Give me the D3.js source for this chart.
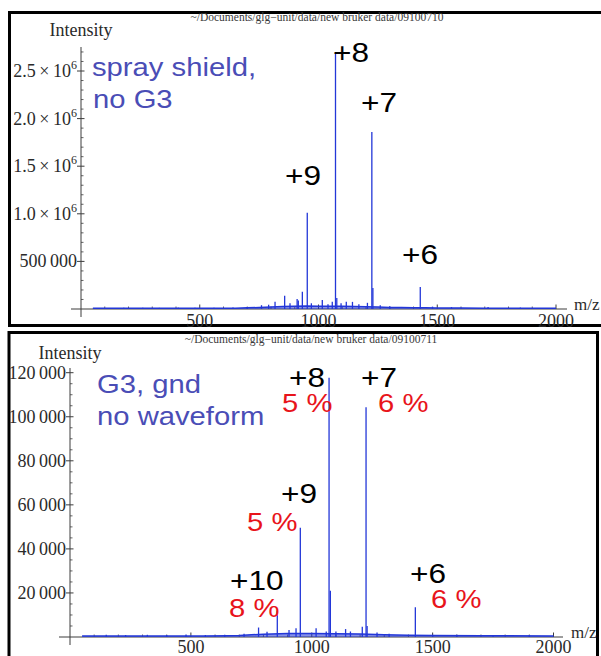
<!DOCTYPE html>
<html>
<head>
<meta charset="utf-8">
<script src="https://cdn.jsdelivr.net/npm/d3@7"></script>
<style>
  html, body { margin: 0; padding: 0; background: #fff; }
  svg { display: block; }
</style>
</head>
<body>
<svg id="chart" width="601" height="656"></svg>
<script>
// ---------- data: run 09100710 (spray shield, no G3) ----------
const topFile = "~/Documents/glg\u2212unit/data/new bruker data/09100710";
const topPeakMz = [180, 260, 330, 410, 480, 560, 640, 700, 760, 790, 817, 857.5, 880, 910, 915, 932,
  952.7, 970, 1016, 1040, 1058, 1071.6, 1077, 1095, 1117, 1143, 1170, 1206, 1224.6, 1229, 1260,
  1300, 1428.5, 1480, 1560, 1714, 1850];
const topPeakInt = [14000, 13000, 12000, 14000, 12000, 12000, 15000, 20000, 40000, 45000, 77000, 140000,
  60000, 105000, 90000, 180000, 1010000, 60000, 95000, 50000, 75000, 2690000, 115000, 60000, 75000,
  75000, 50000, 65000, 1860000, 220000, 40000, 30000, 230000, 25000, 20000, 20000, 15000];
const topFloorMz = [50, 150, 250, 350, 450, 550, 650, 700, 750, 800, 850, 900, 950, 1000, 1050, 1100,
  1150, 1200, 1250, 1300, 1350, 1400, 1450, 1500, 1600, 1700, 1800, 1900, 2000];
const topFloorInt = [7000, 8000, 7000, 8000, 7000, 8000, 9000, 12000, 16000, 22000, 26000, 30000, 32000,
  28000, 30000, 28000, 26000, 24000, 21000, 17000, 15000, 13000, 13000, 11000, 10000, 9000, 8000, 8000, 7000];
const topYTicks = [500000, 1000000, 1500000, 2000000, 2500000];
const topYTickLabels = ["500\u2009000", "1.0\u2009\u00d7\u200910^6", "1.5\u2009\u00d7\u200910^6",
  "2.0\u2009\u00d7\u200910^6", "2.5\u2009\u00d7\u200910^6"];
const topCharges = ["+9", "+8", "+7", "+6"];
const topNote = ["spray shield,", "no G3"];

// ---------- data: run 09100711 (G3, gnd, no waveform) ----------
const botFile = "~/Documents/glg\u2212unit/data/new bruker data/09100711";
const botPeakMz = [150, 230, 320, 400, 480, 560, 640, 720, 780, 815, 857.5, 906, 935, 952.7, 1018,
  1060, 1071.6, 1077, 1100, 1140, 1160, 1209, 1224.6, 1229, 1270, 1320, 1428.5, 1500, 1600, 1750, 1900];
const botPeakInt = [1000, 900, 1000, 900, 1100, 900, 1000, 1500, 4300, 2400, 11800, 3200, 4000, 49600,
  4000, 2500, 117700, 21000, 2500, 3600, 2500, 4700, 104300, 5000, 2000, 1500, 13500, 1000, 1000, 900, 800];
const botFloorMz = [50, 150, 250, 350, 450, 550, 650, 700, 750, 800, 900, 1000, 1100, 1200, 1300, 1400,
  1500, 1700, 2000];
const botFloorInt = [400, 500, 400, 500, 400, 500, 600, 700, 1000, 1300, 1600, 1600, 1500, 1400, 1000,
  800, 700, 600, 500];
const botYTicks = [20000, 40000, 60000, 80000, 100000, 120000];
const botYTickLabels = ["20\u2009000", "40\u2009000", "60\u2009000", "80\u2009000", "100\u2009000", "120\u2009000"];
const botCharges = ["+10", "+9", "+8", "+7", "+6"];
const botShares = ["8 %", "5 %", "5 %", "6 %", "6 %"];
const botNote = ["G3, gnd", "no waveform"];

const xTicks = [500, 1000, 1500, 2000];
const xTickLabels = ["500", "1000", "1500", "2000"];

// ---------- styling ----------
const traceColor = "#2337d8";
const noteColor = "#4a4db6";
const shareColor = "#e8141b";
const serif = "'Liberation Serif', 'Times New Roman', serif";
const sans = "'Liberation Sans', Arial, sans-serif";
const stretch = 1.17;

const svg = d3.select("#chart");

function drawPanel(p) {
  const g = svg.append("g");

  // frame
  g.append("path").attr("d", p.frame).attr("fill", "none")
    .attr("stroke", "#000").attr("stroke-width", 3);

  // file path header
  g.append("text").attr("x", p.fileX).attr("y", p.fileY)
    .attr("text-anchor", "middle").attr("font-family", serif)
    .attr("font-size", 11.5).attr("fill", "#3a3a3a").text(p.file);

  const x = d3.scaleLinear().domain([0, 2000]).range(p.xRange);
  const y = d3.scaleLinear().domain([0, p.yMax]).range(p.yRange);
  const x0 = x(0), y0 = y(0);

  // axes
  const axisColor = "#3c3c3c";
  g.append("line").attr("x1", p.xAxisExt[0]).attr("x2", p.xAxisExt[1])
    .attr("y1", y0).attr("y2", y0).attr("stroke", axisColor).attr("stroke-width", 1);
  g.append("line").attr("x1", x0).attr("x2", x0)
    .attr("y1", p.yAxisExt[0]).attr("y2", p.yAxisExt[1]).attr("stroke", axisColor).attr("stroke-width", 1);

  // x ticks
  const xMinor = d3.range(100, 2001, 100).filter(v => v % 500 !== 0);
  g.selectAll(null).data(xMinor).join("line")
    .attr("x1", d => x(d)).attr("x2", d => x(d)).attr("y1", y0).attr("y2", y0 - 2.5)
    .attr("stroke", axisColor).attr("stroke-width", 0.8);
  g.selectAll(null).data(xTicks).join("line")
    .attr("x1", d => x(d)).attr("x2", d => x(d)).attr("y1", y0).attr("y2", y0 - 4.5)
    .attr("stroke", axisColor).attr("stroke-width", 1);
  g.selectAll(null).data(xTicks).join("text")
    .attr("x", d => x(d)).attr("y", y0 + p.xLabelDy)
    .attr("text-anchor", "middle").attr("font-family", serif).attr("font-size", 18)
    .attr("fill", "#2a2a2a").text((d, i) => xTickLabels[i]);
  g.append("text").attr("x", p.mzX).attr("y", y0 + 1)
    .attr("font-family", serif).attr("font-size", 17).attr("fill", "#2a2a2a").text("m/z");

  // y ticks
  const yMinor = d3.range(p.yMinorStep, p.yMax * 1.1, p.yMinorStep)
    .filter(v => y(v) >= p.yAxisExt[0] && Math.round(v / p.yMinorStep) % p.yMinorPer !== 0);
  g.selectAll(null).data(yMinor).join("line")
    .attr("x1", x0).attr("x2", x0 + 2.5).attr("y1", d => y(d)).attr("y2", d => y(d))
    .attr("stroke", axisColor).attr("stroke-width", 0.8);
  g.selectAll(null).data(p.yTicks).join("line")
    .attr("x1", x0 - 4).attr("x2", x0 + 3.5).attr("y1", d => y(d)).attr("y2", d => y(d))
    .attr("stroke", axisColor).attr("stroke-width", 1);
  const yl = g.selectAll(null).data(p.yTicks).join("text")
    .attr("x", x0 - 4).attr("y", d => y(d) + 6)
    .attr("text-anchor", "end").attr("font-family", serif).attr("font-size", 18).attr("fill", "#2a2a2a");
  yl.each(function (d, i) {
    const parts = p.yTickLabels[i].split("^");
    const t = d3.select(this);
    t.append("tspan").text(parts[0]);
    if (parts[1]) t.append("tspan").attr("dy", -8).attr("font-size", 12).text(parts[1]);
  });
  g.append("text").attr("x", x0).attr("y", p.intensityY)
    .attr("text-anchor", "middle").attr("font-family", serif).attr("font-size", 18)
    .attr("fill", "#2a2a2a").text("Intensity");

  // baseline noise floor
  const floor = p.floorMz.map((m, i) => [m, p.floorInt[i]]);
  g.append("path").datum(floor)
    .attr("d", d3.area().x(d => x(d[0])).y0(y0).y1(d => y(d[1])))
    .attr("fill", traceColor).attr("fill-opacity", 0.55);
  g.append("path").datum(floor)
    .attr("d", d3.line().x(d => x(d[0])).y(d => y(d[1])))
    .attr("fill", "none").attr("stroke", traceColor).attr("stroke-width", 1.5);

  // peaks
  const peaks = p.peakMz.map((m, i) => [m, p.peakInt[i]]);
  g.selectAll(null).data(peaks).join("line")
    .attr("x1", d => x(d[0])).attr("x2", d => x(d[0]))
    .attr("y1", y0).attr("y2", d => y(d[1]))
    .attr("stroke", traceColor).attr("stroke-width", 1.3);

  // annotations
  function label(txt, pos, size, color) {
    g.append("text").attr("transform", `translate(${pos[0]},${pos[1]}) scale(${stretch},1)`)
      .attr("font-family", sans).attr("font-size", size).attr("fill", color).text(txt);
  }
  p.note.forEach((t, i) => label(t, p.notePos[i], 25, noteColor));
  p.charges.forEach((t, i) => label(t, p.chargePos[i], 27, "#000"));
  (p.shares || []).forEach((t, i) => label(t, p.sharePos[i], 25, shareColor));
}

drawPanel({
  frame: "M606,12.5 H9.5 V325.5 H606",
  file: topFile, fileX: 317, fileY: 21,
  xRange: [81, 556], yMax: 2500000, yRange: [309, 71],
  xAxisExt: [71, 567], yAxisExt: [47, 317], xLabelDy: 18, mzX: 574,
  yTicks: topYTicks, yTickLabels: topYTickLabels, yMinorStep: 100000, yMinorPer: 5,
  intensityY: 36,
  floorMz: topFloorMz, floorInt: topFloorInt, peakMz: topPeakMz, peakInt: topPeakInt,
  note: topNote, notePos: [[92, 76], [93, 108]],
  charges: topCharges, chargePos: [[285, 185], [333, 62], [361, 112], [402, 264]]
});

drawPanel({
  frame: "M9,662 V332.5 H597.5 V662",
  file: botFile, fileX: 311, fileY: 343,
  xRange: [70, 553.5], yMax: 120000, yRange: [637, 372.7],
  xAxisExt: [59, 563], yAxisExt: [368, 645], xLabelDy: 16, mzX: 571,
  yTicks: botYTicks, yTickLabels: botYTickLabels, yMinorStep: 5000, yMinorPer: 4,
  intensityY: 359,
  floorMz: botFloorMz, floorInt: botFloorInt, peakMz: botPeakMz, peakInt: botPeakInt,
  note: botNote, notePos: [[97, 393], [97, 425]],
  charges: botCharges, chargePos: [[230, 590], [281, 503], [289, 387], [361, 387], [410, 583]],
  shares: botShares, sharePos: [[229, 617], [247, 531], [282, 412], [378, 412], [431, 608]]
});
</script>
</body>
</html>
